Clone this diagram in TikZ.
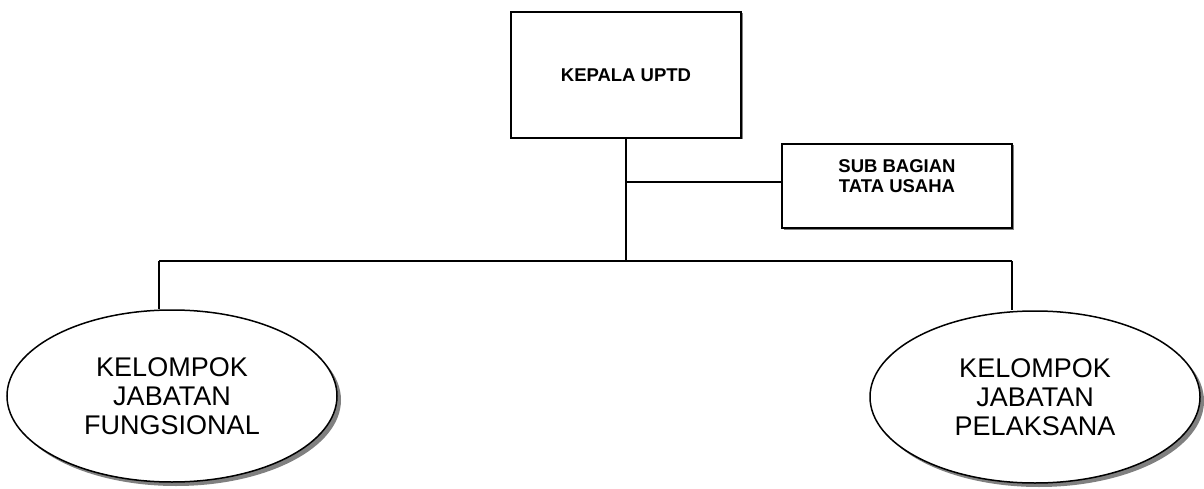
\documentclass[tikz,border=0pt]{standalone}
\usepackage{fontspec}
\setmainfont{Liberation Sans}
\usetikzlibrary{shapes.geometric,shadows}

\begin{document}
\begin{tikzpicture}[x=1pt,y=-1pt,line width=1.5pt,
  box/.style={draw,fill=white,inner sep=0pt,align=center,
    font=\fontsize{18.5}{20}\selectfont\bfseries,
    drop shadow={shadow xshift=1.5pt,shadow yshift=-1.5pt,fill=gray,opacity=1}},
  oval/.style={ellipse,draw,fill=white,inner sep=0pt,align=center,
    minimum width=330pt,minimum height=172pt,
    font=\fontsize{27}{29}\selectfont,
    drop shadow={shadow xshift=4pt,shadow yshift=-4pt,fill=gray,opacity=1}}]
  \useasboundingbox (0,0) rectangle (1204,489);
  \node[box,minimum width=230pt,minimum height=126pt] (kepala) at (626,75) {KEPALA UPTD};
  \node[box,minimum width=230pt,minimum height=84pt] (subbag) at (897,186) {SUB BAGIAN\\TATA USAHA\\~};
  \node[oval] (fung) at (172,396) {KELOMPOK\\JABATAN\\FUNGSIONAL};
  \node[oval] (pelak) at (1035,397) {KELOMPOK\\JABATAN\\PELAKSANA};
  \coordinate (sj) at (626,182);
  \coordinate (kj) at (626,261);
  \coordinate (lj) at (159,261);
  \coordinate (rj) at (1012,261);
  \draw (kepala.south) -- (kj);
  \draw (sj) -- (sj -| subbag.west);
  \draw (lj) -- (rj);
  \draw (lj) -- (lj |- fung.north);
  \draw (rj) -- (rj |- pelak.north);
\end{tikzpicture}
\end{document}
